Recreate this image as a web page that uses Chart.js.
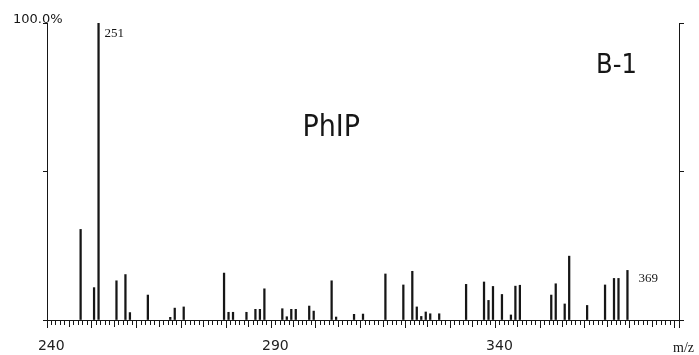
<!DOCTYPE html>
<html>
<head>
<meta charset="utf-8">
<script src="https://cdn.jsdelivr.net/npm/chart.js@4/dist/chart.umd.min.js"></script>
<style>
  html, body { margin: 0; padding: 0; background: #fff; }
  #wrap { width: 699px; height: 355px; }
</style>
</head>
<body>
<div id="wrap"><canvas id="spectrum"></canvas></div>
<script>
// m/z of each peak and its relative intensity (% of base peak)
const mzValues = [247, 250, 251, 255, 257, 258, 262, 267, 268, 270, 279, 280, 281, 284, 286, 287, 288,
    292, 293, 294, 295, 298, 299, 303, 304, 308, 310, 315, 319, 321, 322, 323, 324, 325, 327, 333,
    337, 338, 339, 341, 343, 344, 345, 352, 353, 355, 356, 360, 364, 366, 367, 369];
const intensities = [30.5, 10.9, 100, 13.2, 15.3, 2.5, 8.4, 0.9, 4.0, 4.4, 15.8, 2.6, 2.6, 2.6, 3.6, 3.6, 10.5,
    3.8, 1.1, 3.6, 3.6, 4.7, 3.0, 13.2, 1.0, 1.9, 2.0, 15.5, 11.8, 16.4, 4.4, 1.2, 2.7, 2.1, 2.1, 12.0,
    12.8, 6.6, 11.3, 8.6, 1.7, 11.4, 11.7, 8.4, 12.2, 5.4, 21.5, 4.9, 11.8, 14.0, 14.0, 16.7];
const labelledTicks = [240, 290, 340];
const labelledPeaks = [251, 369];

const ink = '#161616';

// peak labels, axis captions and sample names
const textPlugin = {
    id: 'spectrumText',
    afterDraw(chart) {
        const { ctx, chartArea } = chart;
        const x = chart.scales.x, y = chart.scales.y;
        ctx.save();
        ctx.fillStyle = ink;
        ctx.textBaseline = 'alphabetic';
        ctx.textAlign = 'left';

        ctx.font = '13px "Liberation Serif", serif';
        labelledPeaks.forEach((mz, i) => {
            const idx = mzValues.indexOf(mz);
            const px = x.getPixelForValue(mz);
            const py = y.getPixelForValue(intensities[idx]);
            if (i === 0) ctx.fillText(String(mz), px + 6, py + 14);
            else ctx.fillText(String(mz), px + 11, py + 12);
        });

        ctx.font = '14px "Liberation Serif", serif';
        ctx.fillText('m/z', chartArea.right - 6, chartArea.bottom + 32);

        ctx.font = '13px "DejaVu Sans", sans-serif';
        ctx.fillText('100.0%', chartArea.left - 34, y.getPixelForValue(100));

        ctx.font = '30px "DejaVu Sans Condensed", "DejaVu Sans", sans-serif';
        ctx.fillText('PhIP', x.getPixelForValue(296.5), y.getPixelForValue(62));
        ctx.font = '27px "DejaVu Sans Condensed", "DejaVu Sans", sans-serif';
        ctx.fillText('B-1', x.getPixelForValue(362), y.getPixelForValue(83.2));
        ctx.restore();
    }
};

new Chart(document.getElementById('spectrum'), {
    type: 'bar',
    data: {
        datasets: [{
            data: mzValues.map((mz, i) => ({ x: mz, y: intensities[i] })),
            backgroundColor: ink,
            barThickness: 1.6,
            grouped: false
        }]
    },
    options: {
        responsive: true,
        maintainAspectRatio: false,
        animation: false,
        layout: { padding: { top: 23, left: 0, right: 0, bottom: 0 } },
        plugins: { legend: { display: false }, tooltip: { enabled: false } },
        scales: {
            x: {
                type: 'linear',
                min: 240,
                max: 380,
                afterFit(scale) { scale.height = 35; },
                border: { display: true, color: ink, width: 1 },
                grid: {
                    drawOnChartArea: false,
                    tickLength: 8,
                    tickColor: ink,
                    tickBorderDash: ctx => {
                        const v = ctx.tick ? ctx.tick.value : 0;
                        if (v % 10 === 0) return [];
                        if (v % 5 === 0) return [6, 20];
                        return [4, 20];
                    }
                },
                ticks: {
                    stepSize: 1,
                    autoSkip: false,
                    maxRotation: 0,
                    padding: 10,
                    labelOffset: 2,
                    color: '#222',
                    font: { family: 'DejaVu Sans', size: 14 },
                    callback: v => labelledTicks.includes(v) ? String(v) : ''
                }
            },
            y: {
                min: 0,
                max: 100,
                afterFit(scale) { scale.width = 47; },
                border: { display: true, color: ink, width: 1 },
                grid: { drawOnChartArea: false, tickLength: 4, tickColor: ink },
                ticks: { display: false, stepSize: 50 }
            },
            y2: {
                position: 'right',
                min: 0,
                max: 100,
                afterFit(scale) { scale.width = 20; },
                border: { display: true, color: ink, width: 1 },
                grid: { drawOnChartArea: false, tickLength: 5, tickColor: ink },
                ticks: { display: false, stepSize: 50 }
            }
        }
    },
    plugins: [textPlugin]
});
</script>
</body>
</html>
